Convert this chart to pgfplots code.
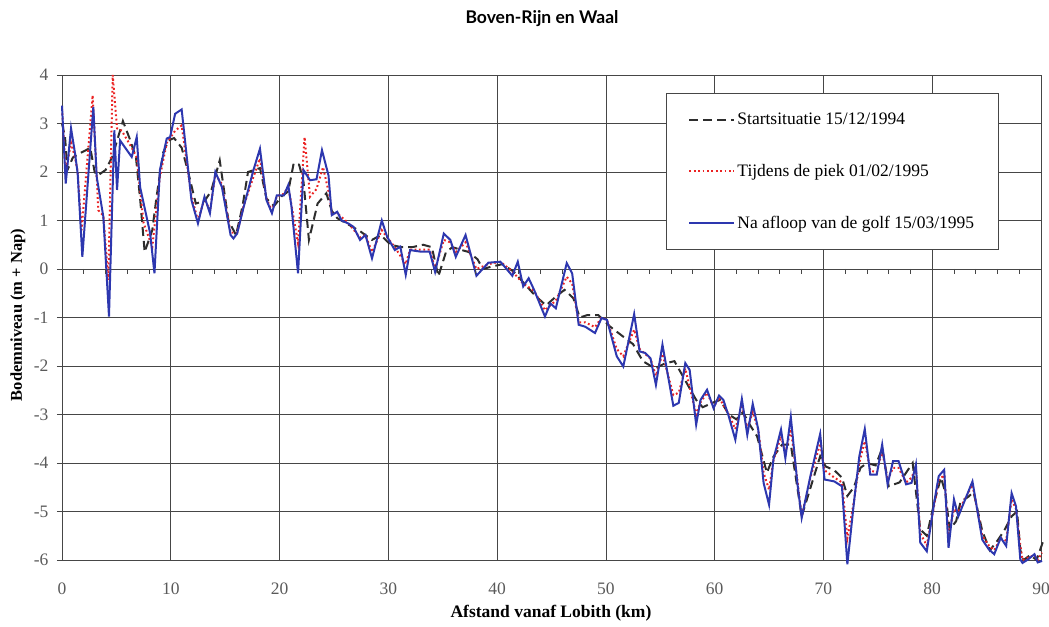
\documentclass[border=0pt]{standalone}
\usepackage{fontspec}
\setmainfont{Liberation Serif}
\newfontfamily\titlefont{Lato}
\usepackage{pgfplots}
\pgfplotsset{compat=1.18}

\definecolor{blueline}{RGB}{45,55,175}
\definecolor{redline}{RGB}{235,35,35}
\definecolor{blackline}{RGB}{45,45,45}
\definecolor{gridc}{RGB}{70,70,70}
\definecolor{tickc}{RGB}{90,90,90}

\begin{document}
\begin{tikzpicture}
\useasboundingbox (-62bp,-67bp) rectangle (987bp,560bp);
\begin{axis}[
  at={(0,0)}, anchor=south west,
  width=979bp, height=485bp, scale only axis,
  xmin=0, xmax=90, ymin=-6, ymax=4,
  xtick={0,10,...,90}, ytick={-6,-5,...,4},
  grid=major,
  major grid style={gridc, line width=0.7bp},
  axis line style={gridc, line width=0.8bp},
  tick style={gridc, line width=0.7bp},
  xtick style={draw=none},
  ytick pos=left, tick align=outside, major tick length=5bp,
  /pgf/number format/assume math mode=true,
  ticklabel style={font=\fontsize{17.5bp}{20bp}\selectfont, text=tickc},
  xticklabel style={yshift=-14bp},
  yticklabel style={xshift=-5bp},
  clip=false,
  legend style={at={(0.617,0.963)}, anchor=north west, draw=gridc, line width=0.8bp, fill=white,
    font=\fontsize{17.5bp}{20bp}\selectfont, row sep=34bp, inner xsep=22bp, inner ysep=18bp,
    cells={anchor=west}},
  legend image code/.code={\draw[#1] (0bp,0bp) -- (45bp,0bp);},
]
\addplot[blackline, line width=2bp, dash pattern=on 9bp off 5bp] coordinates {
(0,3.0) (0.28,2.72) (0.5,2.04) (1.0,2.3) (1.6,2.38) (2.2,2.45) (2.6,2.5) (3.0,2.0) (3.3,1.93)
(4.0,2.04) (4.6,2.3) (5.6,3.05) (6.2,2.7) (6.8,2.3) (7.2,1.4) (7.6,0.35) (8.3,0.8) (8.7,1.5)
(9.3,2.4) (9.8,2.65) (10.3,2.7) (11.0,2.5) (11.6,2.0) (12.3,1.35) (13.1,1.4) (13.7,1.6)
(14.5,2.24) (15.3,1.0) (16.0,0.7) (16.6,1.3) (17.1,2.0) (18.2,2.08) (18.8,1.45) (19.5,1.3)
(20.2,1.5) (20.8,1.6) (21.3,2.18) (21.8,2.15) (22.2,1.8) (22.7,0.6) (23.5,1.35) (24.3,1.56)
(24.8,1.2) (25.3,1.05) (26.3,0.92) (27.4,0.78) (28.5,0.6) (29.3,0.7) (30.2,0.5) (31.2,0.45)
(32.2,0.45) (33.2,0.5) (34.0,0.45) (34.6,-0.15) (35.3,0.35) (35.9,0.45) (36.6,0.4) (37.4,0.35)
(38.2,0.2) (38.7,0.0) (39.5,0.05) (40.5,0.1) (41.5,-0.05) (42.5,-0.3) (43.5,-0.55) (44.5,-0.75)
(45.5,-0.55) (46.2,-0.43) (47.0,-0.6) (47.6,-1.0) (48.3,-0.95) (49.3,-0.95) (50.4,-1.19)
(52.5,-1.55) (53.4,-1.9) (54.5,-2.05) (55.4,-1.95) (56.3,-1.9) (57.3,-2.3) (58.3,-2.7)
(58.9,-2.85) (59.9,-2.75) (60.5,-2.7) (61.3,-3.0) (62.0,-3.1) (62.6,-2.95) (63.2,-3.2)
(63.9,-3.45) (64.8,-4.2) (65.4,-3.87) (66.2,-3.62) (67.0,-3.62) (68.0,-5.1) (69.7,-3.86)
(70.2,-4.07) (71.0,-4.15) (71.7,-4.3) (72.2,-4.68) (72.8,-4.5) (73.4,-4.1) (74.0,-4.0)
(74.8,-4.05) (75.4,-3.7) (76.0,-4.48) (77.0,-4.4) (77.6,-4.2) (78.2,-4.0) (78.9,-5.37)
(79.5,-5.5) (80.2,-4.8) (80.8,-4.3) (81.2,-4.6) (81.6,-5.37) (82.2,-5.2) (82.6,-4.8)
(83.3,-4.7) (83.8,-4.6) (84.6,-5.4) (85.3,-5.8) (86.0,-5.6) (86.6,-5.4) (87.3,-5.1)
(87.8,-5.0) (88.1,-5.8) (88.4,-6.0) (89.0,-5.9) (89.6,-6.0) (90.2,-5.61)
};
\addlegendentry{Startsituatie 15/12/1994}
\addplot[redline, line width=2bp, dash pattern=on 1.8bp off 2.6bp] coordinates {
(0,3.3) (0.34,2.0) (0.83,2.6) (1.2,2.3) (1.44,2.0) (1.8,0.8) (2.82,3.58) (3.34,1.21) (3.8,1.1)
(4.26,-0.23) (4.66,4.0) (5.06,2.9) (5.5,2.85) (6.41,2.5) (6.87,2.3) (7.5,0.95) (8.3,0.45)
(9.0,1.9) (9.63,2.6) (10.4,2.85) (11.0,2.96) (11.9,1.5) (12.5,1.0) (13.1,1.45) (13.6,1.2)
(14.1,1.95) (14.7,1.75) (15.5,0.75) (16.1,0.75) (16.7,1.3) (17.6,1.9) (18.2,2.28) (18.8,1.45)
(19.3,1.2) (19.75,1.5) (20.4,1.55) (20.8,1.7) (21.7,0.53) (22.3,2.72) (22.8,1.49) (23.4,1.65)
(24.0,2.1) (24.6,1.5) (24.8,1.15) (25.3,1.15) (26.3,0.95) (27.4,0.65) (27.9,0.7) (28.5,0.35)
(29.4,0.8) (29.9,0.65) (30.6,0.45) (31.6,0.1) (32.0,0.4) (33.8,0.4) (34.3,0.0) (35.1,0.6)
(35.7,0.55) (36.2,0.35) (37.1,0.55) (38.1,0.0) (39.2,0.1) (40.3,0.15) (41.4,-0.05) (42.4,-0.3)
(43.4,-0.45) (44.4,-0.85) (45.4,-0.65) (46.4,-0.16) (46.9,-0.3) (47.5,-1.1) (48.1,-1.1)
(49.0,-1.2) (49.6,-1.0) (50.1,-1.05) (51.0,-1.65) (51.6,-1.8) (52.6,-1.25) (53.1,-1.65)
(54.1,-1.85) (54.6,-2.2) (55.2,-1.75) (56.2,-2.6) (56.7,-2.55) (57.3,-2.05) (58.3,-3.0)
(58.7,-2.75) (59.3,-2.55) (59.9,-2.85) (60.4,-2.65) (61.3,-3.0) (61.9,-3.3) (62.5,-2.8)
(63.0,-3.3) (63.5,-2.95) (64.0,-3.3) (64.5,-4.2) (65.0,-4.55) (65.4,-3.95) (66.1,-3.45)
(66.5,-3.8) (67.0,-3.3) (67.6,-4.35) (68.0,-5.1) (68.8,-4.3) (69.7,-3.6) (70.1,-4.15)
(71.0,-4.3) (71.7,-4.4) (72.2,-5.55) (72.8,-4.8) (73.3,-4.0) (73.8,-3.55) (74.3,-4.15)
(74.9,-4.2) (75.4,-3.75) (75.9,-4.35) (76.4,-4.1) (76.9,-4.1) (77.6,-4.4) (78.1,-4.3)
(78.5,-4.1) (78.9,-5.45) (79.5,-5.7) (80.2,-4.85) (80.6,-4.35) (81.1,-4.25) (81.5,-5.5)
(82.0,-4.95) (82.4,-5.0) (83.7,-4.45) (84.6,-5.5) (85.2,-5.7) (85.7,-5.8) (86.3,-5.55)
(86.8,-5.6) (87.3,-4.75) (87.7,-4.95) (88.1,-5.7) (88.3,-6.0) (88.8,-5.95) (89.4,-5.9)
(89.7,-6.0) (90.1,-5.85)
};
\addlegendentry{Tijdens de piek 01/02/1995}
\addplot[blueline, line width=2bp] coordinates {
(0,3.37) (0.34,1.76) (0.83,2.9) (1.2,2.38) (1.44,1.97) (1.87,0.25) (2.88,3.34) (3.19,1.9)
(3.8,1.08) (4.32,-0.98) (4.81,2.86) (5.06,1.63) (5.34,2.65) (6.41,2.31) (6.87,2.72) (7.18,1.69)
(8.1,0.74) (8.5,-0.09) (9.0,2.04) (9.63,2.69) (9.94,2.72) (10.4,3.2) (11.0,3.29) (11.9,1.42)
(12.5,0.94) (13.1,1.49) (13.6,1.15) (14.1,2.0) (14.7,1.69) (15.5,0.7) (15.76,0.63) (16.1,0.73)
(16.7,1.28) (17.6,2.04) (18.2,2.48) (18.8,1.42) (19.3,1.15) (19.75,1.52) (20.4,1.52) (20.8,1.73)
(21.1,1.28) (21.7,-0.09) (22.2,2.04) (22.8,1.83) (23.4,1.85) (23.9,2.45) (24.5,1.93) (24.8,1.11)
(25.3,1.18) (25.7,1.0) (26.3,0.94) (26.8,0.87) (27.4,0.6) (27.9,0.7) (28.5,0.22) (29.4,1.0)
(29.9,0.66) (30.6,0.39) (31.1,0.46) (31.6,-0.12) (32.0,0.39) (32.9,0.36) (33.8,0.36) (34.3,-0.06)
(35.1,0.73) (35.7,0.6) (36.2,0.25) (37.1,0.7) (38.1,-0.14) (39.2,0.13) (40.3,0.15) (41.4,-0.14)
(41.9,0.15) (42.4,-0.36) (42.9,-0.19) (43.4,-0.43) (44.4,-0.98) (44.9,-0.71) (45.4,-0.81)
(46.4,0.12) (46.9,-0.09) (47.5,-1.15) (48.1,-1.19) (49.0,-1.32) (49.6,-1.01) (50.1,-1.05)
(51.0,-1.8) (51.6,-2.01) (52.6,-0.93) (53.1,-1.7) (53.6,-1.73) (54.1,-1.84) (54.6,-2.39)
(55.2,-1.56) (56.2,-2.82) (56.7,-2.76) (57.3,-1.94) (57.7,-2.08) (58.3,-3.21) (58.7,-2.7)
(59.3,-2.49) (59.9,-2.87) (60.4,-2.61) (60.8,-2.7) (61.3,-3.04) (61.9,-3.52) (62.5,-2.68)
(63.0,-3.42) (63.5,-2.78) (64.0,-3.3) (64.5,-4.41) (65.0,-4.86) (65.4,-3.93) (66.1,-3.31)
(66.5,-3.9) (67.0,-3.05) (67.6,-4.41) (68.0,-5.13) (68.8,-4.27) (69.7,-3.4) (70.1,-4.34)
(71.0,-4.38) (71.7,-4.48) (72.2,-6.09) (72.8,-4.82) (73.3,-3.86) (73.8,-3.3) (74.3,-4.24)
(74.9,-4.24) (75.4,-3.62) (75.9,-4.44) (76.4,-3.96) (76.9,-3.96) (77.6,-4.44) (78.1,-4.41)
(78.5,-4.03) (78.9,-5.64) (79.5,-5.82) (80.2,-4.79) (80.6,-4.27) (81.1,-4.14) (81.5,-5.75)
(82.0,-4.75) (82.4,-5.1) (83.7,-4.38) (84.6,-5.58) (85.2,-5.78) (85.7,-5.88) (86.3,-5.54)
(86.8,-5.71) (87.3,-4.62) (87.7,-4.89) (88.1,-5.99) (88.3,-6.06) (88.8,-5.99) (89.4,-5.88)
(89.7,-6.05) (90.1,-6.02)
};
\addlegendentry{Na afloop van de golf 15/03/1995}
% small tick marks every 2 km along the zero line
\pgfplotsinvokeforeach{2,4,6,8,12,14,16,18,22,24,26,28,32,34,36,38,42,44,46,48,52,54,56,58,62,64,66,68,72,74,76,78,82,84,86,88}{
  \draw[gridc, line width=0.9bp] (axis cs:#1,0) -- (axis cs:#1,-0.1);
}
\end{axis}
\node[font=\titlefont\bfseries\fontsize{17.5bp}{20bp}\selectfont] at (480bp,541bp) {Boven-Rijn en Waal};
\node[font=\bfseries\fontsize{17.5bp}{20bp}\selectfont] at (489bp,-53bp) {Afstand vanaf Lobith (km)};
\node[rotate=90, font=\bfseries\fontsize{16.5bp}{20bp}\selectfont] at (-44bp,245bp) {Bodemniveau (m + Nap)};
\end{tikzpicture}
\end{document}
